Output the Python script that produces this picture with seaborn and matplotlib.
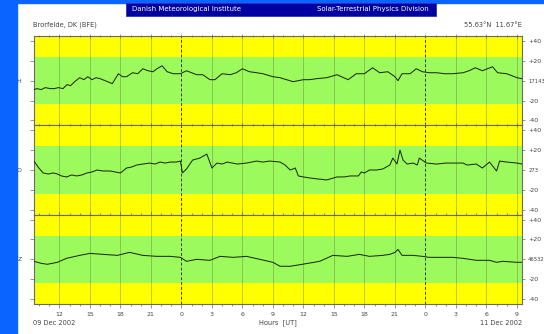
import matplotlib
matplotlib.use("Agg")
import matplotlib.pyplot as plt
from matplotlib.patches import Rectangle
import seaborn as sns
import pandas as pd

# ---------------- data (hours since 09 Dec 2002 00:00 UT, nT offsets) ----------------
h_time = [9.5, 9.8, 10.2, 10.6, 11.1, 11.5, 11.9, 12.35, 12.75, 13.1,
          13.5, 14.0, 14.4, 14.8, 15.2, 15.6, 16.0, 16.5, 17.2, 17.8,
          18.2, 18.6, 19.2, 19.7, 20.2, 20.7, 21.2, 21.6, 22.1, 22.6,
          23.2, 23.9, 24.5, 25.0, 25.5, 26.1, 26.8, 27.3, 28.0, 28.8,
          29.4, 30.0, 30.7, 31.4, 32.0, 33.0, 33.7, 34.0, 35.0, 36.0,
          36.6, 37.3, 38.3, 39.3, 40.4, 41.2, 42.0, 42.8, 43.5, 44.3,
          45.0, 45.3, 45.7, 46.5, 47.1, 47.7, 48.4, 49.1, 49.9, 50.7,
          51.7, 52.3, 52.9, 53.6, 54.6, 55.1, 56.0, 57.0, 57.5]
h_val = [-9, -8, -9, -7, -8, -8, -7, -8, -4, -5,
         -1, 3, 1, 4, 1, 3, 2, 0, -3, 7,
         4, 4, 8, 7, 12, 10, 9, 12, 15, 9,
         7, 7, 10, 8, 6, 6, 1, 1, 7, 6,
         8, 12, 9, 8, 7, 4, 3, 2, -1, 1,
         1, 2, 3, 6, 1, 7, 7, 13, 8, 9,
         4, 0, 7, 7, 12, 9, 8, 8, 7, 7,
         8, 10, 13, 10, 14, 8, 7, 3, 2]

d_time = [9.5, 9.9, 10.4, 10.9, 11.4, 11.8, 12.2, 12.7, 13.2, 13.7,
          14.2, 14.7, 15.2, 15.7, 16.3, 17.0, 17.5, 18.0, 18.6, 19.1,
          19.6, 20.2, 20.9, 21.4, 21.9, 22.4, 22.9, 23.5, 23.9, 24.1,
          24.5, 25.1, 25.8, 26.5, 27.0, 27.5, 28.0, 28.5, 29.0, 29.5,
          30.4, 30.9, 31.4, 32.0, 32.7, 33.7, 34.2, 34.7, 35.2, 35.5,
          36.0, 36.6, 37.4, 38.3, 39.3, 40.0, 40.6, 41.4, 41.7, 42.0,
          42.5, 43.2, 43.8, 44.5, 44.8, 45.2, 45.5, 45.8, 46.2, 46.8,
          47.2, 47.4, 48.1, 49.1, 50.0, 50.7, 51.7, 52.1, 53.0, 53.6,
          54.3, 55.0, 55.3, 56.0, 57.0, 57.5]
d_val = [9, 3, -3, -4, -3, -4, -6, -7, -5, -6,
         -5, -3, -2, 0, -1, -1, -2, -3, 2, 3,
         5, 6, 7, 6, 8, 7, 8, 8, 9, -3,
         1, 10, 12, 16, 2, 7, 6, 8, 7, 6,
         7, 8, 9, 8, 9, 8, 5, 0, 2, -6,
         -7, -8, -9, -10, -7, -7, -6, -6, -2, -3,
         0, 0, 1, 5, 12, 6, 20, 10, 6, 7,
         5, 12, 7, 6, 7, 7, 7, 5, 6, 2,
         8, -1, 9, 8, 7, 6]

z_time = [9.5, 10.2, 10.8, 11.8, 12.7, 14.0, 15.0, 16.3, 17.7, 18.9,
          20.2, 21.6, 22.9, 23.9, 24.5, 25.5, 26.8, 27.8, 29.1, 30.4,
          31.7, 33.0, 33.7, 34.7, 35.9, 37.6, 38.9, 40.3, 41.5, 42.5,
          43.8, 44.5, 45.0, 45.3, 45.7, 46.8, 47.7, 48.4, 49.5, 50.7,
          51.7, 53.0, 54.3, 55.0, 55.6, 57.0, 57.5]
z_val = [-2, -4, -5, -3, 1, 4, 6, 5, 4, 7,
         4, 3, 3, 2, -2, 0, -1, 3, 2, 3,
         0, -3, -7, -7, -5, -2, 4, 3, 5, 3,
         4, 5, 7, 10, 4, 4, 3, 2, 2, 2,
         1, -1, -1, -3, -2, -3, -3]

components = ["H", "D", "Z"]
baselines = ["17143", "273", "46532"]
hour_ticks = list(range(12, 58, 3))

# ---------------- style ----------------
sns.set_theme(style="white")
plt.rcParams["font.family"] = ["DejaVu Sans"]

W, H = 544, 334
fig = plt.figure(figsize=(W / 100, H / 100), dpi=100)
fig.patch.set_facecolor("white")

# frame decorations
fig.patches.append(Rectangle((0, 0), 17 / W, 1, transform=fig.transFigure,
                             color="#0a64ff", zorder=0))
fig.patches.append(Rectangle((0, 1 - 3 / H), 1, 3 / H, transform=fig.transFigure,
                             color="#0a64ff", zorder=0))
fig.patches.append(Rectangle((126 / W, 1 - 16 / H), 310 / W, 13 / H,
                             transform=fig.transFigure, facecolor="#0000a0",
                             edgecolor="#3030c0", lw=0.6, zorder=1))
fig.text(132 / W, 1 - 9.5 / H, "Danish Meteorological Institute", color="white",
         fontsize=5, va="center", ha="left")
fig.text(429 / W, 1 - 9.5 / H, "Solar-Terrestrial Physics Division", color="white",
         fontsize=5, va="center", ha="right")
fig.text(33 / W, 1 - 25 / H, "Brorfelde, DK (BFE)", color="#444444", fontsize=4.8,
         va="center", ha="left")
fig.text(522 / W, 1 - 25 / H, "55.63°N  11.67°E", color="#444444", fontsize=4.8,
         va="center", ha="right")
fig.text(33 / W, 1 - 323 / H, "09 Dec 2002", color="#444444", fontsize=4.8,
         va="center", ha="left")
fig.text(278 / W, 1 - 323 / H, "Hours  [UT]", color="#444444", fontsize=4.8,
         va="center", ha="center")
fig.text(522 / W, 1 - 323 / H, "11 Dec 2002", color="#444444", fontsize=4.8,
         va="center", ha="right")

series = [(h_time, h_val), (d_time, d_val), (z_time, z_val)]
top_px, panel_px = 36, (304 - 36) / 3
yellow, green = "#ffff00", "#9dfa5c"
grey = "#6a6a6a"

for i, (comp, base, (t, v)) in enumerate(zip(components, baselines, series)):
    bottom_px = top_px + (i + 1) * panel_px
    ax = fig.add_axes([34 / W, 1 - bottom_px / H, 488 / W, panel_px / H])
    ax.axhspan(24, 50, color=yellow, zorder=0, lw=0)
    ax.axhspan(-24, 24, color=green, zorder=0, lw=0)
    ax.axhspan(-50, -24, color=yellow, zorder=0, lw=0)
    for hr in hour_ticks:
        if hr % 24 == 0:
            ax.axvline(hr, color="#3a3a3a", lw=0.7, ls=(0, (3, 2)), zorder=1)
        else:
            ax.axvline(hr, color="#5c7a30", lw=0.5, alpha=0.55, zorder=1)
    df = pd.DataFrame({"hour": t, "value": v})
    sns.lineplot(data=df, x="hour", y="value", ax=ax, color="#1c2e12",
                 lw=0.75, estimator=None, sort=False, zorder=3)
    ax.set_xlim(9.5, 57.5)
    ax.set_ylim(-45, 45)
    ax.set_xlabel("")
    ax.set_ylabel("")
    ax.set_xticks(hour_ticks)
    ax.set_xticks(range(10, 58), minor=True)
    ax.set_yticks([-40, -20, 0, 20, 40])
    ax.set_yticklabels(["", "", comp, "", ""])
    last = i == 2
    ax.set_xticklabels([str(h % 24) for h in hour_ticks] if last else [])
    ax.tick_params(axis="x", which="major", length=3, width=0.5, color=grey,
                   direction="out" if last else "inout", top=True, bottom=True,
                   labelsize=4.5, labelcolor="#444444", pad=3)
    ax.tick_params(axis="x", which="minor", length=1.5, width=0.5, color=grey,
                   direction="out" if last else "inout", top=True, bottom=True)
    ax.tick_params(axis="y", length=3, width=0.5, color=grey, direction="out",
                   left=True, labelsize=4.5, labelcolor="#444444", pad=6)
    for s in ax.spines.values():
        s.set_color(grey)
        s.set_linewidth(0.8)
    ax2 = ax.twinx()
    ax2.set_ylim(-45, 45)
    ax2.set_yticks([-40, -20, 0, 20, 40])
    ax2.set_yticklabels(["-40", "-20", base, "+20", "+40"])
    ax2.tick_params(axis="y", length=2.5, width=0.5, color=grey, direction="out",
                    right=True, labelsize=4.5, labelcolor="#444444", pad=2)
    for lbl in ax2.get_yticklabels():
        if lbl.get_text() == base:
            lbl.set_fontsize(3.8)
    for s in ax2.spines.values():
        s.set_visible(False)

fig.savefig("out.png", dpi=100, facecolor="white")
